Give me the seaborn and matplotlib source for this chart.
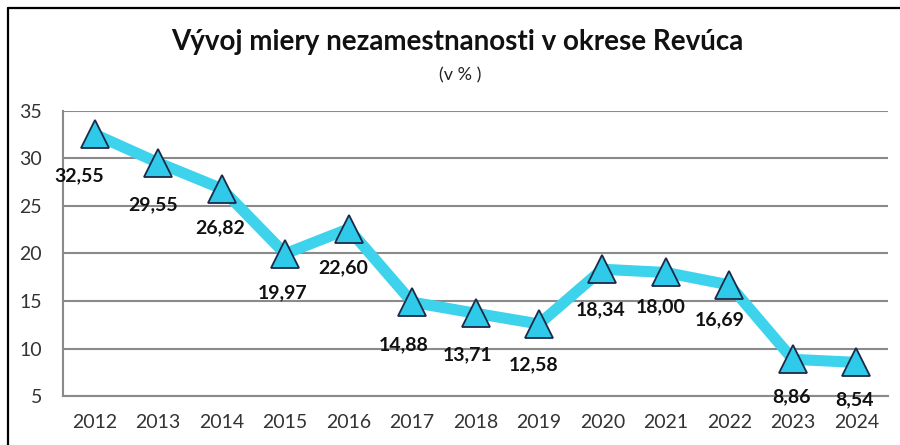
import matplotlib
matplotlib.use("Agg")
import matplotlib.pyplot as plt
import seaborn as sns
import pandas as pd
from matplotlib.lines import Line2D

roky = ["2012", "2013", "2014", "2015", "2016", "2017", "2018",
        "2019", "2020", "2021", "2022", "2023", "2024"]
miera = [32.55, 29.55, 26.82, 19.97, 22.60, 14.88, 13.71,
         12.58, 18.34, 18.00, 16.69, 8.86, 8.54]
popisky = ["32,55", "29,55", "26,82", "19,97", "22,60", "14,88", "13,71",
           "12,58", "18,34", "18,00", "16,69", "8,86", "8,54"]
# posun popiskov v bodoch (dx, dy)
posuny = [(-11, -30), (-4, -30), (-1, -28), (-2, -28), (-4, -28), (-6, -31), (-6, -30),
          (-4, -29), (-1, -29), (-4, -25), (-7, -25), (-1, -27), (-1, -27)]

df = pd.DataFrame({"idx": range(len(roky)), "rok": roky, "miera": miera})

sns.set_style("white")
plt.rcParams["font.family"] = ["Lato", "DejaVu Sans"]

fig = plt.figure(figsize=(9, 4.45), dpi=100)
ax = fig.add_axes([0.07, 0.1101, 0.9167, 0.6405])

sns.lineplot(data=df, x="idx", y="miera", ax=ax, color="#3dd3ec", linewidth=8,
             marker="^", markersize=20, markerfacecolor="#2fcaea",
             markeredgecolor="#1c2a48", markeredgewidth=1.3, zorder=3)

for i, (v, t) in enumerate(zip(miera, popisky)):
    ax.annotate(t, (i, v), xytext=posuny[i], textcoords="offset points",
                ha="center", va="center", fontsize=14, fontweight="bold",
                color="#111111", zorder=4)

ax.set_xlim(-0.5, len(roky) - 0.5)
ax.set_ylim(5, 35)
ax.set_yticks([5, 10, 15, 20, 25, 30, 35])
ax.set_xticks(range(len(roky)))
ax.set_xticklabels(roky)
ax.set_xlabel("")
ax.set_ylabel("")
ax.yaxis.grid(True, color="#8a8a8a", linewidth=1.5)
ax.set_axisbelow(True)
ax.tick_params(axis="y", length=0, pad=15, labelsize=14, labelcolor="#333333")
ax.tick_params(axis="x", length=0, pad=13, labelsize=14, labelcolor="#333333")
for s in ["top", "right"]:
    ax.spines[s].set_visible(False)
ax.spines["left"].set_color("#8a8a8a")
ax.spines["left"].set_linewidth(1.5)
ax.spines["bottom"].set_color("#8a8a8a")
ax.spines["bottom"].set_linewidth(1.5)

fig.text(0.508, 1 - 42 / 445, "Vývoj miery nezamestnanosti v okrese Revúca",
         ha="center", va="center", fontsize=20, fontweight="bold", color="#111111")
fig.text(0.511, 1 - 75 / 445, "(v % )", ha="center", va="center",
         fontsize=13, color="#222222")

# ramik okolo grafu
fig.add_artist(Line2D([8 / 900, 1], [1 - 8 / 445, 1 - 8 / 445], color="black",
                      linewidth=1.6, transform=fig.transFigure))
fig.add_artist(Line2D([8 / 900, 8 / 900], [0, 1 - 8 / 445], color="black",
                      linewidth=1.6, transform=fig.transFigure))

fig.savefig("out.png", dpi=100, facecolor="white")
